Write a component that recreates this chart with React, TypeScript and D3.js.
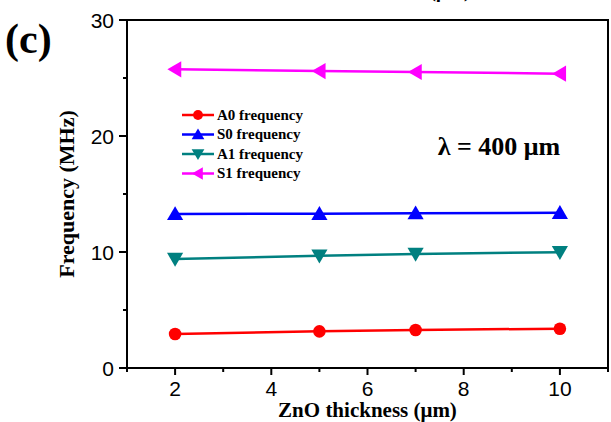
import React from "react";
import * as d3 from "d3";

// ZnO thickness (μm) at which each mode frequency was computed
const thickness = [2, 5, 7, 10];

// Mode frequencies (MHz) for λ = 400 μm
const a0Freq = [2.93, 3.16, 3.28, 3.39];
const s0Freq = [13.28, 13.3, 13.35, 13.38];
const a1Freq = [9.4, 9.68, 9.83, 9.98];
const s1Freq = [25.75, 25.6, 25.52, 25.37];

const seriesNames = ["A0 frequency", "S0 frequency", "A1 frequency", "S1 frequency"];
const seriesColors = ["#ff0000", "#0000ff", "#008080", "#ff00ff"];
const seriesMarkers = ["circle", "triangleUp", "triangleDown", "triangleLeft"];

const xTicks = [2, 4, 6, 8, 10];
const xMinorTicks = [1, 3, 5, 7, 9, 11];
const yTicks = [0, 10, 20, 30];
const yMinorTicks = [5, 15, 25];

const W = 611;
const H = 422;
const plot = { left: 127, right: 608, top: 20, bottom: 368 };

const x = d3.scaleLinear().domain([1, 11]).range([plot.left, plot.right]);
const y = d3.scaleLinear().domain([0, 30]).range([plot.bottom, plot.top]);

const sans = "'Liberation Sans', Arial, sans-serif";
const serif = "'Liberation Serif', 'Times New Roman', serif";

function Marker({ kind, cx, cy, size, color }: { kind: string; cx: number; cy: number; size: number; color: string }) {
  if (kind === "circle") return <circle cx={cx} cy={cy} r={size * 0.45} fill={color} />;
  const h = size * 0.55;
  let pts: [number, number][] = [];
  if (kind === "triangleUp") pts = [[cx, cy - h], [cx - h * 1.05, cy + h * 0.8], [cx + h * 1.05, cy + h * 0.8]];
  if (kind === "triangleDown") pts = [[cx, cy + h], [cx - h * 1.05, cy - h * 0.8], [cx + h * 1.05, cy - h * 0.8]];
  if (kind === "triangleLeft") pts = [[cx - h, cy], [cx + h * 0.8, cy - h * 1.05], [cx + h * 0.8, cy + h * 1.05]];
  return <polygon points={pts.map((p) => p.join(",")).join(" ")} fill={color} />;
}

export default function App() {
  const allSeries = [a0Freq, s0Freq, a1Freq, s1Freq];
  const line = d3
    .line<number>()
    .x((_, i) => x(thickness[i]))
    .y((d) => y(d));

  const legendX = 182;
  const legendY0 = 115;
  const legendStep = 19.5;

  return (
    <svg width={W} height={H} style={{ position: "absolute", left: 0, top: 0, background: "#fff" }}>
      <rect x={0} y={0} width={W} height={H} fill="#fff" />

      {/* clipped heading from the panel above */}
      <text x={450} y={-3} fontFamily={serif} fontWeight="bold" fontSize={20} textAnchor="middle">(μm)</text>

      {/* panel label */}
      <text x={5} y={53} fontFamily={serif} fontWeight="bold" fontSize={42}>(c)</text>

      {/* series lines and markers */}
      {allSeries.map((vals, si) => (
        <g key={seriesNames[si]}>
          <path d={line(vals) || ""} fill="none" stroke={seriesColors[si]} strokeWidth={2.5} />
          {vals.map((v, i) => (
            <Marker key={i} kind={seriesMarkers[si]} cx={x(thickness[i])} cy={y(v)} size={14} color={seriesColors[si]} />
          ))}
        </g>
      ))}

      {/* frame */}
      <rect
        x={plot.left}
        y={plot.top}
        width={plot.right - plot.left}
        height={plot.bottom - plot.top}
        fill="none"
        stroke="#000"
        strokeWidth={2}
      />

      {/* y axis ticks and labels */}
      {yTicks.map((t) => (
        <g key={"y" + t}>
          <line x1={plot.left - 8} x2={plot.left} y1={y(t)} y2={y(t)} stroke="#000" strokeWidth={2} />
          <text x={plot.left - 13} y={y(t)} dy="0.36em" textAnchor="end" fontFamily={sans} fontSize={21}>
            {t}
          </text>
        </g>
      ))}
      {yMinorTicks.map((t) => (
        <line key={"ym" + t} x1={plot.left - 4} x2={plot.left} y1={y(t)} y2={y(t)} stroke="#000" strokeWidth={2} />
      ))}

      {/* x axis ticks and labels */}
      {xTicks.map((t) => (
        <g key={"x" + t}>
          <line x1={x(t)} x2={x(t)} y1={plot.bottom} y2={plot.bottom + 7} stroke="#000" strokeWidth={2} />
          <text x={x(t)} y={396} textAnchor="middle" fontFamily={sans} fontSize={21}>
            {t}
          </text>
        </g>
      ))}
      {xMinorTicks.map((t) => (
        <line key={"xm" + t} x1={x(t)} x2={x(t)} y1={plot.bottom} y2={plot.bottom + 4} stroke="#000" strokeWidth={2} />
      ))}

      {/* axis titles */}
      <text
        x={(plot.left + plot.right) / 2}
        y={417}
        textAnchor="middle"
        fontFamily={serif}
        fontWeight="bold"
        fontSize={21}
      >
        ZnO thickness (μm)
      </text>
      <text
        transform={`translate(74, ${(plot.top + plot.bottom) / 2}) rotate(-90)`}
        textAnchor="middle"
        fontFamily={serif}
        fontWeight="bold"
        fontSize={22}
      >
        Frequency (MHz)
      </text>

      {/* legend */}
      {seriesNames.map((name, i) => {
        const ly = legendY0 + i * legendStep;
        return (
          <g key={name}>
            <line x1={legendX} x2={legendX + 32} y1={ly} y2={ly} stroke={seriesColors[i]} strokeWidth={2.5} />
            <Marker kind={seriesMarkers[i]} cx={legendX + 16} cy={ly} size={11} color={seriesColors[i]} />
            <text x={legendX + 35} y={ly} dy="0.33em" fontFamily={serif} fontWeight="bold" fontSize={15}>
              {name}
            </text>
          </g>
        );
      })}

      {/* wavelength annotation */}
      <text x={499} y={155} textAnchor="middle" fontFamily={serif} fontWeight="bold" fontSize={26}>
        λ = 400 μm
      </text>
    </svg>
  );
}
